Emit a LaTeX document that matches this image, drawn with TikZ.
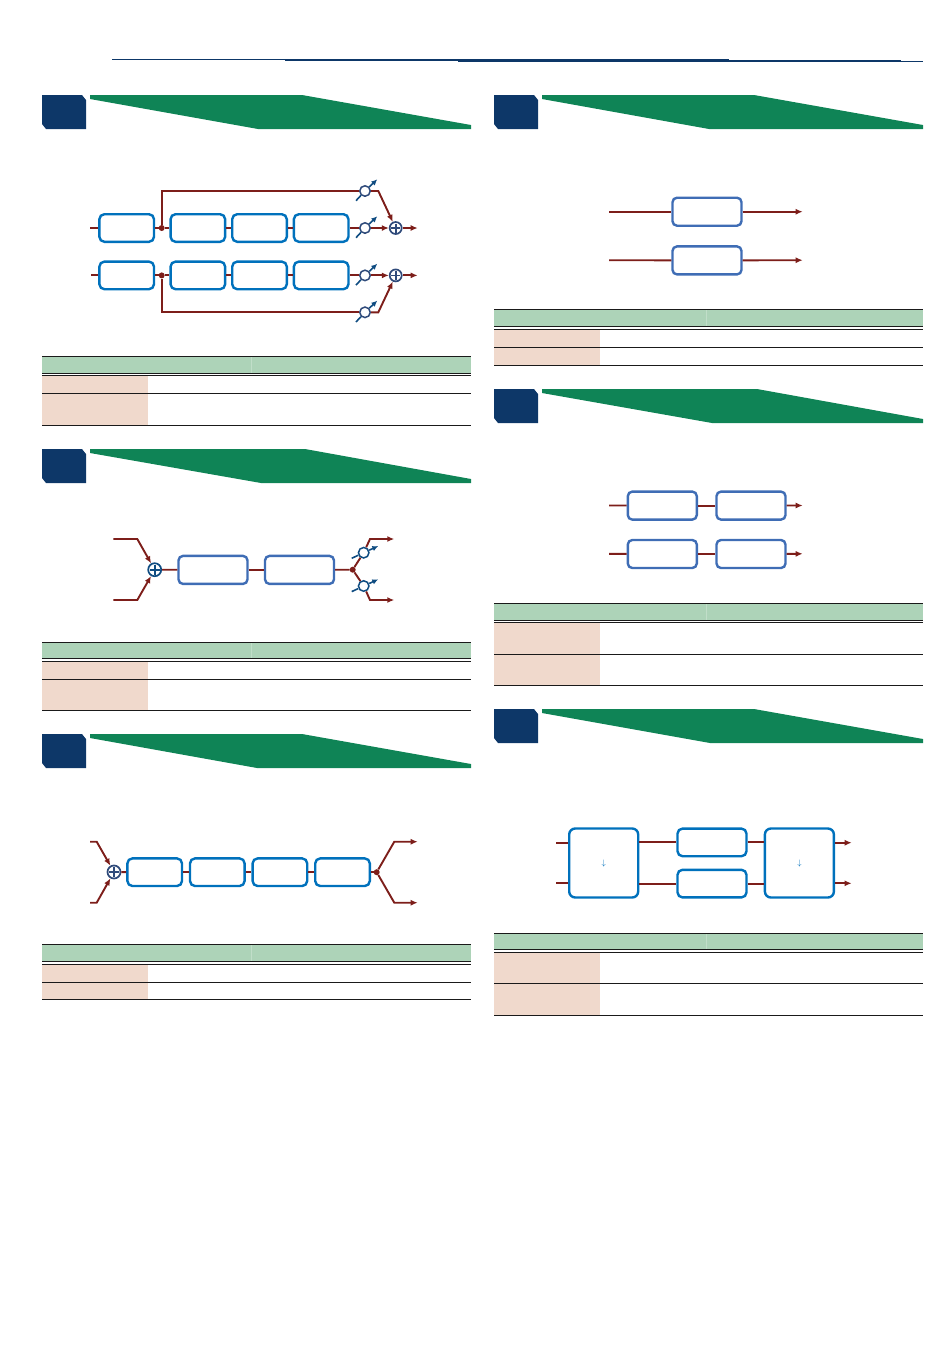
\documentclass[tikz,border=0pt]{standalone}
\usepackage{xcolor}
\usepackage{tikz}
\usetikzlibrary{arrows.meta,positioning}
\definecolor{darknavy}{RGB}{13,55,104}
\definecolor{darkgreen}{RGB}{15,132,86}
\definecolor{softgreen}{RGB}{173,211,184}
\definecolor{softpeach}{RGB}{240,217,204}
\definecolor{darkred}{RGB}{125,30,26}
\definecolor{fxblue}{RGB}{0,113,188}
\definecolor{fxsteel}{RGB}{63,109,181}
\definecolor{ringblue}{RGB}{47,74,122}
\definecolor{knobblue}{RGB}{15,76,129}
\definecolor{rulegray}{RGB}{26,26,26}

\begin{document}
\begin{tikzpicture}[x=1pt, y=-1pt, >={Latex[length=7pt,width=6pt]}]
\tikzstyle{box}=[rounded corners=5pt, draw=fxblue, line width=2.4pt, fill=white, minimum width=54.6pt, minimum height=27.6pt, inner sep=0pt]
\tikzstyle{sbox}=[rounded corners=4.5pt, draw=fxsteel, line width=2.4pt, fill=white, minimum width=69pt, minimum height=28pt, inner sep=0pt]
\tikzstyle{wbox}=[rounded corners=5pt, draw=fxblue, line width=2.4pt, fill=white, minimum width=69pt, minimum height=27.6pt, inner sep=0pt]
\tikzstyle{bigbox}=[rounded corners=6pt, draw=fxblue, line width=2.4pt, fill=white, minimum width=69pt, minimum height=69pt, inner sep=0pt, text=fxblue, font=\footnotesize]
\tikzstyle{sig}=[draw=darkred, line width=1.9pt]
\tikzstyle{dot}=[circle, fill=darkred, minimum size=6pt, inner sep=0pt]
\tikzstyle{gain}=[circle, draw=ringblue, line width=1.5pt, fill=white, minimum size=10.5pt, inner sep=0pt]
\tikzstyle{knob}=[draw=knobblue, line width=1.6pt]
\tikzstyle{sumnode}=[circle, draw=ringblue, line width=1.7pt, fill=white, minimum size=12pt, inner sep=0pt, path picture={
  \draw[line width=1.6pt] ([yshift=-1.5pt]path picture bounding box.north) -- ([yshift=1.5pt]path picture bounding box.south);
  \draw[line width=1.6pt] ([xshift=1.5pt]path picture bounding box.west) -- ([xshift=-1.5pt]path picture bounding box.east);}]
\useasboundingbox (0,0) rectangle (950,1369);

% top rule
\draw[darknavy, line width=0.9pt] (112,59.4) -- (285,59.4);
\draw[darknavy, line width=1.6pt] (285,60) -- (458,60);
\draw[darknavy, line width=2.6pt] (458,60.5) -- (729,60.5);
\draw[darknavy, line width=1.5pt] (729,60.8) -- (901,60.8);
\draw[darknavy, line width=0.7pt] (901,61.3) -- (923,61.3);

% section heads
\foreach \x/\y/\t/\b in {42/95/302/258, 42/449/305/261, 42/734/302/257, 494/95/754/709, 494/389/757/712, 494/709/754/710} {
  \fill[darknavy] (\x,\y) -- (\x+40,\y) -- (\x+44,\y+5) -- (\x+44,\y+34) -- (\x+4,\y+34) -- (\x,\y+29) -- cycle;
  \fill[darkgreen] (\x+48,\y) -- (\t,\y) -- (\x+429,\y+30) -- (\x+429,\y+34) -- (\b,\y+34) -- (\x+48,\y+4) -- cycle;
}

% tables
\foreach \x/\s/\a/\b/\c/\d/\e in {42/251/356.3/373.3/375.3/393.3/425.3, 42/251/642.3/658.3/661.3/679.3/710.3, 42/251/944.3/961.3/964/982.3/999.3, 494/706/309.3/326.3/329.3/347.3/365.3, 494/706/603.3/620.3/622.3/654.3/685.3, 494/706/933.3/949.3/952.3/983.3/1015.3} {
  \fill[softgreen] (\x,\a) rectangle (\x+429,\b);
  \fill[softpeach] (\x,\c) rectangle (\x+106,\e);
  \draw[white, line width=0.3pt, opacity=0.25] (\s,\a) -- (\s,\b);
  \draw[rulegray, line width=0.8pt] (\x,\a) -- (\x+429,\a);
  \draw[rulegray, line width=0.8pt] (\x,\b) -- (\x+429,\b);
  \draw[rulegray, line width=0.8pt] (\x,\c) -- (\x+429,\c);
  \draw[rulegray, line width=0.8pt] (\x,\d) -- (\x+429,\d);
  \draw[rulegray, line width=0.8pt] (\x,\e) -- (\x+429,\e);
}

% section 1
\coordinate (in1) at (90,228);
\coordinate (in2) at (91,275.4);
\node[box] (pre1) at (126.7,228) {};
\node[dot] (dot1) at (161.7,228) {};
\node[box, right=14.15pt of pre1] (fxa1) {};
\node[box, right=4.65pt of fxa1] (fxb1) {};
\node[box, right=4.65pt of fxb1] (fxc1) {};
\node[box] (pre2) at (126.7,275.4) {};
\node[dot] (dot2) at (161.7,275.4) {};
\node[box, right=14.15pt of pre2] (fxa2) {};
\node[box, right=4.65pt of fxa2] (fxb2) {};
\node[box, right=4.65pt of fxb2] (fxc2) {};
\node[gain] (lvl1) at (365,191) {};
\node[gain] (lvl2) at (365,228) {};
\node[gain] (lvl3) at (365,275.4) {};
\node[gain] (lvl4) at (365,312.3) {};
\node[sumnode] (sum1) at (395.7,228) {};
\node[sumnode] (sum2) at (395.7,275.4) {};
\coordinate (bend1) at (378.3,191);
\coordinate (bend2) at (378.3,312.3);
\coordinate (out1) at (417.7,228);
\coordinate (out2) at (417.7,275.4);
\draw[sig] (in1) -- (pre1);
\draw[sig] (pre1) -- (dot1) -- (fxa1);
\draw[sig] (fxa1) -- (fxb1);
\draw[sig] (fxb1) -- (fxc1);
\draw[sig] (in2) -- (pre2);
\draw[sig] (pre2) -- (dot2) -- (fxa2);
\draw[sig] (fxa2) -- (fxb2);
\draw[sig] (fxb2) -- (fxc2);
\draw[sig] (dot1) |- (lvl1);
\draw[sig] (dot2) |- (lvl4);
\draw[sig, ->] (lvl1) -- (bend1) -- (sum1);
\draw[sig, ->] (lvl4) -- (bend2) -- (sum2);
\draw[sig] (fxc1) -- (lvl2);
\draw[sig] (fxc2) -- (lvl3);
\draw[sig, ->] (lvl2) -- (sum1);
\draw[sig, ->] (lvl3) -- (sum2);
\draw[sig, ->] (sum1) -- (out1);
\draw[sig, ->] (sum2) -- (out2);

% section 2
\coordinate (in3) at (113.3,539);
\coordinate (in4) at (113.3,600);
\coordinate (bend3) at (137.3,539);
\coordinate (bend4) at (137.3,600);
\node[sumnode, draw=knobblue, minimum size=13pt, text=knobblue] (sum3) at (154.7,569.7) {};
\node[sbox] (fxd) at (213,569.9) {};
\node[sbox, right=15.1pt of fxd] (fxe) {};
\node[dot] (dot3) at (352.7,569.7) {};
\node[gain, draw=knobblue] (lvl5) at (363.7,552.7) {};
\node[gain, draw=knobblue] (lvl6) at (363.7,586) {};
\coordinate (bend5) at (370,539);
\coordinate (bend6) at (370,600);
\coordinate (out3) at (394.3,539);
\coordinate (out4) at (394.3,600);
\draw[sig, ->] (in3) -- (bend3) -- (sum3);
\draw[sig, ->] (in4) -- (bend4) -- (sum3);
\draw[sig] (sum3) -- (fxd);
\draw[sig] (fxd) -- (fxe);
\draw[sig] (fxe) -- (dot3);
\draw[sig] (dot3) -- (lvl5);
\draw[sig] (dot3) -- (lvl6);
\draw[sig, ->] (lvl5) -- (bend5) -- (out3);
\draw[sig, ->] (lvl6) -- (bend6) -- (out4);

% level knobs
\foreach \g/\ax/\ay/\bx/\by in {lvl1/-9/9.7/12.3/-11.7, lvl2/-9/9.7/12.3/-11.7, lvl3/-9/9.7/12.3/-11.7, lvl4/-9/9.7/12.3/-11.7, lvl5/-12/5.6/14.6/-6.7, lvl6/-12/5.6/14.6/-6.7} {
  \draw[knob] ([shift={(\ax,\ay)}]\g.center) -- (\g);
  \draw[knob, -{Latex[length=6pt,width=5.5pt]}] (\g) -- ([shift={(\bx,\by)}]\g.center);
}

% section 3
\coordinate (in5) at (90,841.7);
\coordinate (in6) at (90,902.7);
\coordinate (bend7) at (96.7,841.7);
\coordinate (bend8) at (96.7,902.7);
\node[sumnode, minimum size=13pt] (sum4) at (114,872) {};
\node[box] (fxf) at (154.7,872.2) {};
\node[box, right=5.6pt of fxf] (fxg) {};
\node[box, right=5.6pt of fxg] (fxh) {};
\node[box, right=5.6pt of fxh] (fxi) {};
\node[dot] (dot4) at (376.7,872.2) {};
\coordinate (bend9) at (394.3,841.7);
\coordinate (bend10) at (394.3,902.7);
\coordinate (out5) at (417.7,841.7);
\coordinate (out6) at (417.7,902.7);
\draw[sig, ->] (in5) -- (bend7) -- (sum4);
\draw[sig, ->] (in6) -- (bend8) -- (sum4);
\draw[sig] (sum4) -- (fxf);
\draw[sig] (fxf) -- (fxg);
\draw[sig] (fxg) -- (fxh);
\draw[sig] (fxh) -- (fxi);
\draw[sig] (fxi) -- (dot4);
\draw[sig, ->] (dot4) -- (bend9) -- (out5);
\draw[sig, ->] (dot4) -- (bend10) -- (out6);

% section 4
\coordinate (in7) at (609,211.7);
\coordinate (in8) at (609,260.2);
\node[sbox] (fxj) at (707,211.7) {};
\node[sbox] (fxk) at (707,260.4) {};
\coordinate (out7) at (802.7,211.7);
\coordinate (out8) at (802.7,260.2);
\draw[sig] (in7) -- (fxj);
\draw[sig] (in8) -- (fxk);
\draw[sig, ->] (fxj) -- (out7);
\draw[sig, ->] (fxk) -- (out8);

% section 5
\coordinate (in9) at (609,505.5);
\coordinate (in10) at (609,553.8);
\node[sbox] (fxl) at (662.3,505.6) {};
\node[sbox, right=17.3pt of fxl] (fxm) {};
\node[sbox] (fxn) at (662.3,554) {};
\node[sbox, right=17.3pt of fxn] (fxo) {};
\coordinate (out9) at (802.7,505.5);
\coordinate (out10) at (802.7,553.8);
\draw[sig] (in9) -- (fxl);
\draw[sig] (fxl) -- (fxm);
\draw[sig, ->] (fxm) -- (out9);
\draw[sig] (in10) -- (fxn);
\draw[sig] (fxn) -- (fxo);
\draw[sig, ->] (fxo) -- (out10);

% section 6
\coordinate (in11) at (556,842.7);
\coordinate (in12) at (556,883.3);
\node[bigbox] (msin) at (603.7,863) {$\downarrow$};
\node[wbox] (fxp) at (712,842.4) {};
\node[wbox] (fxq) at (712,883.6) {};
\node[bigbox] (msout) at (799.4,863) {$\downarrow$};
\coordinate (out11) at (851.7,842.7);
\coordinate (out12) at (851.7,883.3);
\draw[sig] (in11) -- (in11 -| msin.west);
\draw[sig] (in12) -- (in12 -| msin.west);
\draw[sig] (fxp.west -| msin.east) -- (fxp);
\draw[sig] (fxq.west -| msin.east) -- (fxq);
\draw[sig] (fxp) -- (fxp.east -| msout.west);
\draw[sig] (fxq) -- (fxq.east -| msout.west);
\draw[sig, ->] (out11 -| msout.east) -- (out11);
\draw[sig, ->] (out12 -| msout.east) -- (out12);
\end{tikzpicture}
\end{document}
